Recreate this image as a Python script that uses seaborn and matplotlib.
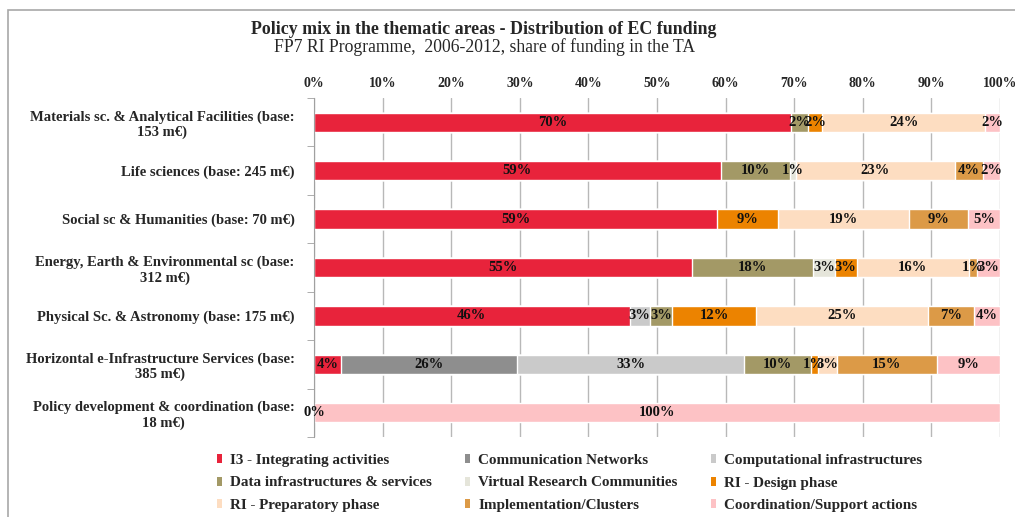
import numpy as np
import pandas as pd
import matplotlib
matplotlib.use("Agg")
import matplotlib.pyplot as plt
from matplotlib.patches import Patch, Rectangle
import seaborn as sns

nan = np.nan

# thematic areas (top to bottom)
areas = [
    "Materials sc. & Analytical Facilities (base:\n153 m€)",
    "Life sciences (base: 245 m€)",
    "Social sc & Humanities (base: 70 m€)",
    "Energy, Earth & Environmental sc (base:\n312 m€)",
    "Physical Sc. & Astronomy (base: 175 m€)",
    "Horizontal e-Infrastructure Services (base:\n385 m€)",
    "Policy development & coordination (base:\n18 m€)",
]

series_names = [
    "I3 - Integrating activities",
    "Communication Networks",
    "Computational infrastructures",
    "Data infrastructures & services",
    "Virtual Research Communities",
    "RI - Design phase",
    "RI - Preparatory phase",
    "Implementation/Clusters",
    "Coordination/Support actions",
]

# share of funding (%) per area, one list per instrument
i3 = [69.6, 59.3, 58.8, 55.1, 46.0, 4.0, 0.0]
comm_networks = [nan, nan, nan, nan, nan, 25.6, nan]
computational = [nan, nan, nan, nan, 3.0, 33.1, nan]
data_infra = [2.4, 10.1, nan, 17.7, 3.2, 9.7, nan]
vrc = [nan, 0.8, nan, 3.1, nan, nan, nan]
ri_design = [2.1, nan, 8.8, 3.2, 12.3, 1.0, nan]
ri_prep = [23.7, 23.2, 19.1, 16.4, 25.0, 2.8, nan]
implementation = [nan, 4.1, 8.6, 1.1, 6.7, 14.6, nan]
coordination = [2.2, 2.5, 4.7, 3.4, 3.8, 9.2, 100.0]

colors = ["#E8233B", "#8E8E8E", "#CACACA", "#A39966", "#E5E5DA",
          "#EC8300", "#FDDDC1", "#DC9A47", "#FDC2C5"]

all_series = [i3, comm_networks, computational, data_infra, vrc,
              ri_design, ri_prep, implementation, coordination]

# long table with cumulative end of each stacked segment
rows = []
cum = np.zeros(len(areas))
for name, vals in zip(series_names, all_series):
    v = np.array(vals, dtype=float)
    start = cum.copy()
    cum = cum + np.nan_to_num(v)
    for a, val, s, e in zip(areas, v, start, cum):
        if not np.isnan(val):
            rows.append({"area": a, "series": name, "value": val,
                         "start": s, "end": e})
df = pd.DataFrame(rows)

sns.set_style("white")
plt.rcParams["font.family"] = ["Liberation Serif", "DejaVu Serif"]

fig = plt.figure(figsize=(10.15, 5.17), dpi=100)
ax = fig.add_axes([314 / 1015, 1 - 437 / 517, 686 / 1015, 339 / 517])

# draw cumulative bars from last series to first so they stack
for name, c in reversed(list(zip(series_names, colors))):
    sub = df[df["series"] == name]
    sns.barplot(data=sub, x="end", y="area", order=areas, color=c,
                orient="h", width=0.4, errorbar=None, saturation=1,
                edgecolor="white", linewidth=1, ax=ax)

for _, r in df.iterrows():
    ax.text((r["start"] + r["end"]) / 2, areas.index(r["area"]),
            f"{r['value']:.0f}%", ha="center", va="center",
            fontsize=10.5, fontweight="bold", color="#111111")

ax.set_xlim(0, 100)
ax.set_xticks(np.arange(0, 101, 10))
ax.set_xticklabels([f"{t}%" for t in range(0, 101, 10)],
                   fontsize=10, fontweight="bold")
ax.xaxis.tick_top()
ax.tick_params(axis="x", length=0, pad=6)
ax.set_xlabel("")
ax.set_ylabel("")
ax.grid(axis="x", color="#B8B8B8", linewidth=1)
ax.set_axisbelow(True)

for sp in ["top", "right", "bottom"]:
    ax.spines[sp].set_visible(False)
ax.spines["left"].set_color("#A0A0A0")

ax.set_yticks(range(len(areas)))
ax.set_yticklabels(areas, fontsize=10.5, fontweight="bold")
for lbl in ax.get_yticklabels():
    lbl.set_multialignment("center")
ax.set_yticks(np.arange(-0.5, len(areas), 1), minor=True)
ax.tick_params(axis="y", which="major", length=0, pad=14)
ax.tick_params(axis="y", which="minor", length=5, left=True,
               color="#A0A0A0")

fig.text(0.477, 1 - 29 / 517, "Policy mix in the thematic areas - Distribution of EC funding",
         ha="center", va="center", fontsize=12.9, fontweight="bold")
fig.text(0.477, 1 - 47 / 517, "FP7 RI Programme,  2006-2012, share of funding in the TA",
         ha="center", va="center", fontsize=12.7)

# legend laid out row-wise like the original
order = [0, 3, 6, 1, 4, 7, 2, 5, 8]
handles = [Patch(facecolor=colors[i], edgecolor="none") for i in order]
labels = [series_names[i] for i in order]
fig.legend(handles, labels, ncol=3, loc="center", bbox_to_anchor=(0.561, 1 - 483 / 517),
           frameon=False, prop={"weight": "bold", "size": 10.9},
           handlelength=0.35, handleheight=0.55, handletextpad=0.5,
           columnspacing=2.2, labelspacing=0.62)

fig.add_artist(Rectangle((8 / 1015, -0.1), 1.2, 1.1 - 10 / 517,
                         transform=fig.transFigure, fill=False,
                         edgecolor="#A8A8A8", linewidth=1.2))

fig.savefig("out.png", dpi=100)
